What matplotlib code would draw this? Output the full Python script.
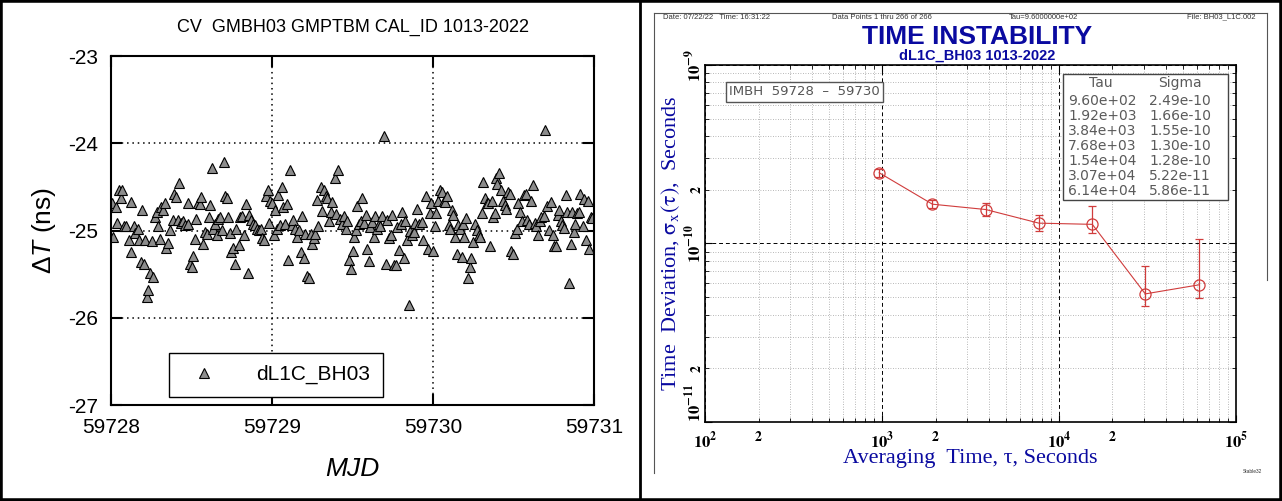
import matplotlib
matplotlib.use('Agg')
import numpy as np
import matplotlib.pyplot as plt
from matplotlib import ticker
from matplotlib.lines import Line2D
from matplotlib.patches import Rectangle

plt.rcParams['font.family'] = ['Liberation Sans', 'DejaVu Sans']
plt.rcParams['axes.unicode_minus'] = False
plt.rcParams['mathtext.fontset'] = 'stix'
plt.rcParams['mathtext.rm'] = 'Liberation Sans'
plt.rcParams['mathtext.it'] = 'Liberation Sans:italic'

# ---- left panel data ----
mjd_start = 59728
mjd_offset = [
    0.008, 0.015, 0.028, 0.038, 0.051, 0.061, 0.071, 0.083, 0.096, 0.109,
    0.121, 0.126, 0.141, 0.152, 0.167, 0.172, 0.187, 0.192, 0.202, 0.212,
    0.222, 0.232, 0.242, 0.253, 0.263, 0.273, 0.283, 0.293, 0.303, 0.313,
    0.323, 0.333, 0.343, 0.354, 0.369, 0.384, 0.389, 0.404, 0.414, 0.424,
    0.437, 0.449, 0.462, 0.475, 0.480, 0.490, 0.500, 0.510, 0.520, 0.530,
    0.540, 0.551, 0.561, 0.571, 0.581, 0.596, 0.606, 0.616, 0.626, 0.636,
    0.646, 0.657, 0.667, 0.677, 0.689, 0.702, 0.710, 0.720, 0.727, 0.737,
    0.747, 0.758, 0.768, 0.778, 0.793, 0.803, 0.813, 0.823, 0.836, 0.848,
    0.859, 0.869, 0.879, 0.894, 0.904, 0.919, 0.929, 0.939, 0.949, 0.960,
    0.972, 0.980, 0.990, 1.000, 1.010, 1.020, 1.030, 1.040, 1.051, 1.061,
    1.071, 1.081, 1.091, 1.101, 1.111, 1.121, 1.131, 1.141, 1.152, 1.167,
    1.177, 1.187, 1.197, 1.207, 1.217, 1.227, 1.242, 1.247, 1.258, 1.268,
    1.278, 1.288, 1.303, 1.313, 1.323, 1.333, 1.343, 1.354, 1.364, 1.374,
    1.389, 1.399, 1.409, 1.419, 1.434, 1.449, 1.460, 1.465, 1.480, 1.490,
    1.500, 1.510, 1.520, 1.530, 1.540, 1.551, 1.561, 1.571, 1.581, 1.591,
    1.601, 1.611, 1.621, 1.631, 1.641, 1.652, 1.662, 1.672, 1.682, 1.697,
    1.707, 1.717, 1.727, 1.737, 1.747, 1.758, 1.768, 1.778, 1.788, 1.798,
    1.808, 1.818, 1.828, 1.838, 1.848, 1.859, 1.869, 1.879, 1.889, 1.899,
    1.914, 1.929, 1.939, 1.955, 1.970, 1.980, 1.990, 2.000, 2.010, 2.020,
    2.030, 2.040, 2.056, 2.066, 2.076, 2.086, 2.096, 2.106, 2.116, 2.126,
    2.136, 2.146, 2.157, 2.167, 2.177, 2.187, 2.192, 2.202, 2.217, 2.227,
    2.237, 2.247, 2.258, 2.273, 2.283, 2.293, 2.303, 2.313, 2.323, 2.333,
    2.343, 2.354, 2.364, 2.374, 2.384, 2.389, 2.399, 2.409, 2.419, 2.434,
    2.444, 2.455, 2.465, 2.475, 2.485, 2.495, 2.510, 2.520, 2.530, 2.540,
    2.551, 2.566, 2.576, 2.586, 2.596, 2.611, 2.621, 2.631, 2.641, 2.652,
    2.662, 2.672, 2.687, 2.697, 2.707, 2.722, 2.732, 2.742, 2.753, 2.763,
    2.773, 2.783, 2.793, 2.803, 2.813, 2.823, 2.833, 2.843, 2.854, 2.864,
    2.874, 2.884, 2.894, 2.904, 2.914, 2.929, 2.939, 2.949, 2.960, 2.970,
    2.980, 2.990]
dT_ns = [
    -24.69, -25.08, -24.73, -24.91, -24.54, -24.63, -24.53, -24.95, -24.95, -25.11,
    -25.25, -24.67, -24.95, -25.03, -24.98, -25.11, -25.36, -24.76, -25.38, -25.11,
    -25.76, -25.68, -25.49, -25.12, -25.53, -24.85, -24.79, -24.95, -25.10, -24.73,
    -24.76, -24.69, -25.20, -25.14, -24.99, -24.88, -24.58, -24.62, -24.88, -24.46,
    -24.91, -24.89, -24.94, -24.92, -24.69, -25.38, -25.42, -25.29, -25.10, -24.87,
    -24.69, -24.70, -24.62, -25.16, -25.02, -25.04, -24.85, -24.71, -24.28, -24.98,
    -24.92, -25.05, -24.87, -24.85, -24.99, -24.21, -24.61, -24.63, -24.85, -25.03,
    -25.25, -25.20, -25.38, -24.98, -25.17, -24.84, -24.83, -25.05, -24.70, -25.49,
    -24.82, -24.88, -24.92, -24.94, -24.98, -24.99, -24.98, -25.09, -25.11, -24.61,
    -24.53, -24.91, -24.66, -24.69, -25.05, -24.77, -24.98, -24.59, -24.94, -24.50,
    -24.73, -24.93, -24.70, -25.34, -24.31, -24.94, -24.88, -24.98, -25.07, -24.99,
    -25.25, -24.83, -25.31, -25.04, -25.52, -25.55, -25.04, -25.16, -25.09, -25.04,
    -24.65, -24.95, -24.50, -24.78, -24.54, -24.61, -24.63, -24.89, -24.79, -24.67,
    -24.40, -24.81, -24.31, -24.87, -24.93, -24.83, -24.98, -24.89, -25.34, -25.44,
    -25.23, -25.08, -24.99, -24.72, -24.92, -24.89, -24.63, -24.91, -24.82, -25.21,
    -25.35, -24.96, -24.90, -25.07, -24.83, -24.98, -24.93, -24.95, -24.83, -23.92,
    -25.38, -24.88, -25.09, -25.05, -24.82, -25.39, -25.40, -24.96, -25.22, -24.92,
    -24.79, -25.32, -24.89, -25.11, -25.85, -25.00, -25.05, -25.02, -24.91, -24.75,
    -24.92, -24.90, -25.11, -24.61, -25.21, -24.80, -24.69, -25.23, -24.95, -24.80,
    -24.66, -24.53, -24.56, -24.66, -24.67, -24.60, -24.94, -24.98, -24.77, -24.82,
    -25.07, -25.27, -24.94, -24.98, -25.30, -24.92, -25.08, -24.86, -25.54, -25.42,
    -25.32, -25.13, -24.92, -24.99, -25.05, -25.07, -24.80, -24.44, -24.63, -24.69,
    -24.69, -25.18, -24.66, -24.85, -24.80, -24.40, -24.47, -24.34, -24.53, -24.66,
    -24.71, -24.75, -24.56, -24.58, -25.24, -25.27, -25.03, -24.98, -24.69, -24.79,
    -24.89, -24.59, -24.58, -24.88, -24.92, -24.66, -24.48, -24.91, -24.95, -25.05,
    -24.89, -24.85, -24.83, -23.85, -24.72, -24.99, -24.67, -25.05, -25.18, -25.18,
    -24.82, -24.77, -24.89, -24.94, -24.97, -24.59, -24.79, -25.60, -25.15, -24.79,
    -25.02, -24.92, -24.80, -24.79, -24.58, -24.95, -24.64, -25.11, -24.66, -25.21,
    -24.84, -24.86]
x_ticks = [59728, 59729, 59730, 59731]
y_ticks = [-27, -26, -25, -24, -23]

# ---- right panel data ----
tau = [9.60e2, 1.92e3, 3.84e3, 7.68e3, 1.54e4, 3.07e4, 6.14e4]
sigma = [2.49e-10, 1.66e-10, 1.55e-10, 1.30e-10, 1.28e-10, 5.22e-11, 5.86e-11]
sigma_lo = [2.36e-10, 1.58e-10, 1.43e-10, 1.17e-10, 1.14e-10, 4.47e-11, 4.95e-11]
sigma_hi = [2.62e-10, 1.75e-10, 1.68e-10, 1.44e-10, 1.62e-10, 7.50e-11, 1.06e-10]
tau_decades = [2, 3, 4, 5]
sigma_decades = [-11, -10, -9]

navy = '#0a0aa0'
red = '#d03c3c'

fig = plt.figure(figsize=(12.82, 5.01), dpi=100)

# ================= left: CV time series =================
ax1 = fig.add_axes([0.0866, 0.1916, 0.3768, 0.6966])
mjd = mjd_start + np.array(mjd_offset)
ax1.plot(mjd, dT_ns, ls='none', marker='^', ms=7.5, mfc='#8c8c8c', mec='black',
         mew=0.8, label='dL1C_BH03')
ax1.set_xlim(x_ticks[0], x_ticks[-1])
ax1.set_ylim(y_ticks[0], y_ticks[-1])
ax1.set_xticks(x_ticks)
ax1.set_yticks(y_ticks)
ax1.xaxis.set_major_formatter(ticker.FormatStrFormatter('%d'))
ax1.grid(True, color='black', ls=(0, (1, 2.5)), lw=1.1)
ax1.tick_params(direction='in', length=8, width=1.5, labelsize=15,
                top=True, right=True)
ax1.tick_params(axis='y', pad=9)
ax1.tick_params(axis='x', pad=9)
for s in ax1.spines.values():
    s.set_linewidth(1.5)
ax1.set_xlabel('MJD', fontsize=19, style='italic')
ax1.xaxis.set_label_coords(0.5, -0.15)
ax1.set_ylabel(r'$\Delta\mathit{T}$ (ns)', fontsize=19, math_fontfamily='custom')
ax1.yaxis.set_label_coords(-0.11, 0.5)
fig.text(0.275, 0.946, 'CV  GMBH03 GMPTBM CAL_ID 1013-2022', fontsize=13,
         ha='center', va='center')
leg = ax1.legend(loc='lower left', bbox_to_anchor=(0.12, 0.023), fancybox=False,
                 edgecolor='black', framealpha=1, fontsize=15, borderpad=0.6,
                 handletextpad=1.4, handlelength=2.2, borderaxespad=0)
leg.get_frame().set_linewidth(1.0)

# ================= right: Stable32 TDEV =================
ax2 = fig.add_axes([0.5503, 0.1577, 0.4138, 0.7126])
ax2.set_xscale('log')
ax2.set_yscale('log')
ax2.set_xlim(10.0 ** tau_decades[0], 10.0 ** tau_decades[-1])
ax2.set_ylim(10.0 ** sigma_decades[0], 10.0 ** sigma_decades[-1])
sig = np.array(sigma)
yerr = [sig - np.array(sigma_lo), np.array(sigma_hi) - sig]
ax2.errorbar(tau, sigma, yerr=yerr, color=red, lw=0.8, marker='o', ms=8,
             mfc='none', mec=red, mew=0.9, capsize=3, elinewidth=0.9, zorder=3)


def major_fmt(v, pos):
    return r'$\mathbf{10^{%d}}$' % round(np.log10(v))


def minor_fmt(v, pos):
    m = v / 10 ** np.floor(np.log10(v) + 1e-9)
    return r'$\mathbf{2}$' if abs(m - 2) < 0.01 else ''


for axis, decs in ((ax2.xaxis, tau_decades), (ax2.yaxis, sigma_decades)):
    majors = [10.0 ** d for d in decs]
    minors = [k * 10.0 ** d for d in decs[:-1] for k in range(2, 10)]
    axis.set_major_locator(ticker.FixedLocator(majors))
    axis.set_minor_locator(ticker.FixedLocator(minors))
    axis.set_major_formatter(ticker.FuncFormatter(major_fmt))
    axis.set_minor_formatter(ticker.FuncFormatter(minor_fmt))

ax2.grid(which='major', color='black', ls=(0, (4, 3)), lw=0.7)
ax2.grid(which='minor', color='#a0a0a0', ls=(0, (1, 2)), lw=0.6)
ax2.tick_params(which='both', direction='in', top=True, right=True, labelsize=12)
ax2.tick_params(which='major', length=5)
ax2.tick_params(which='minor', length=3, labelsize=10)
ax2.tick_params(axis='x', which='both', pad=6)
ax2.tick_params(axis='y', which='both', labelrotation=90, pad=1)
for s in ax2.spines.values():
    s.set_linewidth(1.2)

serif = ['Liberation Serif', 'DejaVu Serif']
ax2.set_xlabel('Averaging  Time, \u03c4, Seconds', fontsize=16, color=navy,
               family=serif)
ax2.xaxis.set_label_coords(0.5, -0.075)
ax2.set_ylabel(r'Time  Deviation, $\mathrm{\sigma}_{\mathrm{x}}(\mathrm{\tau})$,  Seconds',
               fontsize=16, color=navy, family=serif)
ax2.yaxis.set_label_coords(-0.045, 0.5)

fig.text(0.762, 0.927, 'TIME INSTABILITY', fontsize=19, fontweight='bold',
         color=navy, ha='center', va='center')
fig.text(0.762, 0.889, 'dL1C_BH03 1013-2022', fontsize=10.5, fontweight='bold',
         color=navy, ha='center', va='center')

hdr = dict(fontsize=5.5, color='#333333', va='center')
fig.text(0.517, 0.966, 'Date: 07/22/22   Time: 16:31:22', **hdr)
fig.text(0.649, 0.966, 'Data Points 1 thru 266 of 266', **hdr)
fig.text(0.787, 0.966, 'Tau=9.6000000e+02', **hdr)
fig.text(0.979, 0.966, 'File: BH03_L1C.002', ha='right', **hdr)
fig.text(0.977, 0.056, 'Stable32', fontsize=3.5, color='#333333', ha='center')

# IMBH box
ax2.text(0.045, 0.925, 'IMBH  59728  \u2013  59730', transform=ax2.transAxes,
         fontsize=9.5, color='#555555', family='DejaVu Sans', va='center',
         bbox=dict(boxstyle='square,pad=0.25', fc='white', ec='#555555', lw=1.0))

# Tau / Sigma table
tbl = dict(fontsize=10, color='#5a5a5a', family='DejaVu Sans', va='center',
           transform=fig.transFigure)
fig.add_artist(Rectangle((1063 / 1282, 1 - 200 / 501), 165 / 1282, 126 / 501,
                         transform=fig.transFigure, fc='white', ec='#444444',
                         lw=1.0, zorder=5))
fig.text(1101 / 1282, 1 - 83 / 501, 'Tau', ha='center', zorder=6, **tbl)
fig.text(1180 / 1282, 1 - 83 / 501, 'Sigma', ha='center', zorder=6, **tbl)
for i, (t, s) in enumerate(zip(tau, sigma)):
    yy = 1 - (101 + 15 * i) / 501
    fig.text(1068 / 1282, yy, f'{t:.2e}', zorder=6, **tbl)
    fig.text(1149 / 1282, yy, f'{s:.2e}', zorder=6, **tbl)

# Stable32 page frame
fc = '#555555'
fig.add_artist(Line2D([654 / 1282, 654 / 1282], [1 - 473 / 501, 1 - 13 / 501],
                      color=fc, lw=0.8))
fig.add_artist(Line2D([654 / 1282, 1267 / 1282], [1 - 13 / 501, 1 - 13 / 501],
                      color=fc, lw=0.8))
fig.add_artist(Line2D([1267 / 1282, 1267 / 1282], [1 - 280 / 501, 1 - 13 / 501],
                      color=fc, lw=0.8))

# outer border and divider
fig.add_artist(Rectangle((0, 0), 1, 1, transform=fig.transFigure, fill=False,
                         ec='black', lw=4))
fig.add_artist(Line2D([640 / 1282, 640 / 1282], [0, 1], color='black', lw=2))

# rotated y tick labels of the right panel: centred, lowest one kept inside
fig.canvas.draw()
ylabs = ax2.get_yticklabels()
for lab in ylabs + ax2.get_yticklabels(minor=True):
    lab.set_va('center')
ylabs[0].set_va('bottom')

fig.savefig('out.png', dpi=100)
